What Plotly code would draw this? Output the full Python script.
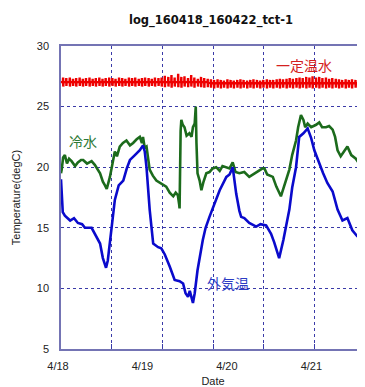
import pandas as pd
import plotly.graph_objects as go

# ---- data (hours since 2016-04-18 00:00) ----
# constant-temperature water: base level and the short spikes seen on it
red_base_early = 27.02   # before ~4/19 18:00
red_base_late = 26.93    # after
red_base_switch_h = 42.0
spike_hours = [
    0.6, 1.5, 2.5, 3.4, 4.3, 5.3, 6.2, 7.1, 8.1, 9.0, 9.9, 10.9, 11.8, 12.7, 13.7, 14.6,
    15.5, 16.5, 17.4, 18.3, 19.3, 20.2, 21.1, 22.1, 23.0, 23.9, 24.9, 25.8, 26.7, 27.7,
    28.6, 29.5, 30.5, 31.4, 32.3, 33.3, 34.2, 35.1, 36.1, 37.0, 37.9, 38.9, 39.8, 40.7,
    41.7, 42.6, 43.5, 44.5, 45.4, 46.3, 47.3, 48.2, 49.1, 50.1, 51.0, 51.9, 52.9, 53.8,
    54.7, 55.7, 56.6, 57.5, 58.5, 59.4, 60.3, 61.3, 62.2, 63.1, 64.1, 65.0, 65.9, 66.9,
    67.8, 68.7, 69.7, 70.6, 71.5, 72.5, 73.4, 74.3, 75.3, 76.2, 77.1, 78.1, 79.0, 79.9,
    80.9, 81.8, 82.7, 83.7, 84.6, 85.5,
]
spike_hi = [
    27.40, 27.35, 27.40, 27.30, 27.35, 27.40, 27.30, 27.35, 27.40, 27.30, 27.35, 27.40, 27.30, 27.35, 27.40, 27.35,
    27.30, 27.40, 27.35, 27.30, 27.40, 27.35, 27.40, 27.30, 27.35, 27.40, 27.35, 27.30, 27.40, 27.35,
    27.40, 27.55, 27.45, 27.60, 27.40, 27.70, 27.45, 27.50, 27.35, 27.60, 27.40, 27.30, 27.45, 27.35,
    27.30, 27.25, 27.20, 27.25, 27.20, 27.15, 27.25, 27.20, 27.15, 27.20, 27.25, 27.20, 27.15, 27.20,
    27.25, 27.20, 27.15, 27.20, 27.25, 27.20, 27.20, 27.25, 27.30, 27.25, 27.30, 27.35, 27.30, 27.35,
    27.40, 27.35, 27.45, 27.40, 27.50, 27.40, 27.45, 27.35, 27.40, 27.30, 27.35, 27.30, 27.25, 27.20,
    27.25, 27.20, 27.25, 27.20, 27.20, 27.25,
]
spike_lo = [
    26.65, 26.70, 26.65, 26.70, 26.65, 26.70, 26.65, 26.70, 26.65, 26.70, 26.65, 26.70, 26.65, 26.70, 26.65, 26.70,
    26.65, 26.70, 26.65, 26.70, 26.65, 26.70, 26.65, 26.70, 26.65, 26.70, 26.65, 26.70, 26.65, 26.70,
    26.65, 26.60, 26.65, 26.55, 26.65, 26.60, 26.55, 26.65, 26.60, 26.65, 26.55, 26.65, 26.60, 26.55,
    26.60, 26.55, 26.50, 26.55, 26.50, 26.55, 26.50, 26.55, 26.50, 26.55, 26.50, 26.55, 26.50, 26.55,
    26.50, 26.55, 26.50, 26.55, 26.50, 26.55, 26.50, 26.55, 26.50, 26.55, 26.50, 26.55, 26.50, 26.55,
    26.50, 26.55, 26.50, 26.55, 26.50, 26.55, 26.50, 26.55, 26.50, 26.55, 26.50, 26.55, 26.50, 26.55,
    26.50, 26.55, 26.50, 26.55, 26.50, 26.55,
]

green_hours = [
    0, 0.2, 0.6, 1.1, 1.7, 2.3, 3.0, 4.0, 4.8, 5.7, 6.3, 7.4, 8.7, 9.6, 11.1, 11.9,
    12.5, 13.0, 13.9, 14.7, 15.3, 15.9, 16.7, 17.6, 18.6, 19.6, 20.5, 21.5, 22.4,
    23.0, 23.3, 23.8, 24.3, 25.2, 26.1, 27.1, 28.1, 28.9, 29.9, 30.9, 31.9, 32.6,
    33.2, 33.6, 33.7, 34.0, 34.2, 34.6, 35.1, 35.7, 36.5, 37.1, 37.5, 38.0, 38.3,
    38.5, 38.8, 39.4, 39.9, 40.5, 41.3, 42.2, 43.1, 44.1, 45.1, 45.9, 47.0, 47.9,
    48.8, 49.6, 50.7, 52.1, 53.5, 54.5, 55.8, 57.3, 57.8, 58.6, 60.2, 61.2, 62.5,
    63.5, 64.9, 65.7, 66.8, 67.4, 68.2, 68.9, 69.4, 70.1, 71.1, 72.5, 73.4, 74.2,
    75.3, 76.2, 77.2, 77.9, 78.6, 79.5, 80.5, 81.4, 82.5, 83.8, 84.7, 85.3, 86.4,
]
green_vals = [
    19.5, 19.8, 20.8, 21.0, 20.3, 20.7, 20.5, 20.1, 20.4, 20.6, 20.6, 20.3, 20.5, 20.2, 19.5, 18.8,
    18.5, 18.2, 19.2, 20.6, 21.3, 20.9, 21.7, 22.0, 22.2, 21.8, 22.0, 22.3, 22.5,
    22.0, 22.5, 21.6, 21.7, 19.8, 19.3, 18.9, 18.7, 18.6, 18.4, 17.9, 17.6, 17.9,
    17.7, 16.9, 16.6, 23.0, 23.9, 23.5, 23.3, 22.6, 22.8, 22.5, 23.3, 23.6, 25.0,
    22.0, 19.5, 18.9, 18.1, 18.8, 19.5, 19.6, 19.9, 20.0, 19.7, 20.1, 20.0, 19.9,
    20.4, 19.6, 19.5, 19.6, 19.2, 19.4, 19.6, 19.9, 19.9, 19.4, 19.2, 18.4, 17.6,
    18.6, 19.8, 21.0, 22.2, 23.3, 24.3, 23.9, 23.3, 23.6, 23.3, 23.5, 23.7, 23.3,
    23.3, 23.4, 23.1, 22.5, 21.4, 20.9, 21.3, 21.7, 21.0, 20.7, 20.3, 20.8, 21.0,
]

blue_hours = [
    0, 0.2, 0.5, 1.1, 2.6, 3.7, 4.8, 6.0, 6.8, 8.7, 10.1, 11.1, 11.9, 12.8, 13.3,
    13.9, 15.3, 16.4, 17.7, 18.7, 19.6, 21.0, 22.4, 23.3, 23.8, 24.3, 24.7, 25.2,
    26.2, 27.6, 28.5, 29.5, 30.9, 32.3, 33.7, 34.7, 35.4, 36.1, 36.6, 37.5, 38.0,
    38.8, 40.3, 41.1, 42.2, 43.6, 45.1, 47.0, 47.9, 48.8, 49.8, 50.7, 51.2, 52.1,
    53.5, 55.5, 56.7, 58.3, 59.7, 60.6, 62.0, 63.2, 64.9, 65.7, 66.8, 67.7, 68.9,
    70.1, 71.1, 72.0, 73.4, 74.5, 75.7, 77.2, 78.6, 80.0, 81.4, 82.8, 84.2, 85.0,
    85.7, 86.4,
]
blue_vals = [
    19.0, 17.3, 16.3, 16.0, 15.6, 15.8, 15.4, 15.3, 15.0, 15.0, 14.3, 13.7, 12.5, 11.7, 12.3,
    13.7, 17.3, 18.5, 18.9, 19.9, 20.6, 21.0, 21.4, 21.8, 21.3, 20.0, 18.0, 16.5,
    13.7, 13.4, 13.3, 12.8, 11.8, 10.7, 10.6, 10.4, 9.6, 9.3, 9.8, 8.8, 9.6,
    11.5, 14.0, 15.0, 15.9, 17.0, 18.1, 19.2, 19.4, 20.0, 17.8, 16.4, 15.9, 15.8,
    15.4, 15.1, 15.3, 15.2, 14.5, 13.8, 12.5, 14.0, 16.5, 18.3, 20.0, 22.5, 22.8,
    23.2, 22.4, 21.4, 20.3, 19.5, 18.7, 18.0, 16.5, 15.6, 15.8, 14.8, 14.3, 14.2,
    15.0, 15.0,
]

day_ticks = ["2016-04-18", "2016-04-19", "2016-04-20", "2016-04-21"]
day_labels = ["4/18", "4/19", "4/20", "4/21"]
grid_ticks = ["2016-04-18 14:24", "2016-04-19 04:48", "2016-04-19 19:12",
              "2016-04-20 09:36", "2016-04-21 00:00"]
y_ticks = [5, 10, 15, 20, 25, 30]

base = pd.Timestamp("2016-04-18")


def to_dt(hours):
    return [base + pd.Timedelta(hours=h) for h in hours]


# build the spiky red line: baseline, then each spike up/down and back
red_h, red_v = [0.0], [red_base_early]
for h, hi, lo in zip(spike_hours, spike_hi, spike_lo):
    b = red_base_early if h < red_base_switch_h else red_base_late
    red_h += [h - 0.06, h, h + 0.04, h + 0.1]
    red_v += [b, hi, lo, b]
red_h.append(86.4)
red_v.append(red_base_late)

fig = go.Figure()
fig.add_trace(go.Scatter(x=to_dt(red_h), y=red_v, mode="lines",
                         line=dict(color="#ee0000", width=2.4), name="一定温水"))
fig.add_trace(go.Scatter(x=to_dt(green_hours), y=green_vals, mode="lines",
                         line=dict(color="#1c6b1c", width=2.6), name="冷水"))
fig.add_trace(go.Scatter(x=to_dt(blue_hours), y=blue_vals, mode="lines",
                         line=dict(color="#0a0acc", width=2.6), name="外気温"))

frame = "#7474b4"
grid = "#3a3aa8"
# the page body adds an 8px offset, so margins are set in figure coordinates
W, H, OFF = 365, 387, 8
fig.update_layout(
    width=W, height=H,
    margin=dict(l=61 - OFF, r=OFF, t=46 - OFF, b=H - (349 - OFF)),
    paper_bgcolor="white", plot_bgcolor="white",
    showlegend=False,
    font=dict(family="Liberation Sans, Arial, sans-serif", size=11, color="#222"),
    title=dict(text="<b>log_160418_160422_tct-1</b>",
               x=(211 - OFF) / W, xanchor="center",
               y=1 - (20 - OFF) / H, yanchor="middle",
               font=dict(family="DejaVu Sans, sans-serif", size=11.5, color="#111")),
    xaxis=dict(
        type="date", automargin=False,
        range=["2016-04-18 00:00", "2016-04-21 14:24"],
        tickvals=day_ticks, ticktext=day_labels,
        showgrid=False, ticks="", ticklabelstandoff=6, ticklabelshift=-3,
        showline=True, linecolor=frame, linewidth=1.5, mirror=True,
        zeroline=False,
        minor=dict(tickvals=grid_ticks, showgrid=True, gridcolor=grid,
                   griddash="dot", gridwidth=1, ticks="inside", ticklen=5,
                   tickcolor=grid),
        title=dict(text="Date", standoff=6, font=dict(size=11, color="#222")),
    ),
    yaxis=dict(
        range=[5, 30], tickvals=y_ticks, automargin=False,
        showgrid=True, gridcolor=grid, griddash="dot", gridwidth=1,
        ticks="", ticklabelstandoff=8,
        showline=True, linecolor=frame, linewidth=1.5, mirror=True,
        zeroline=False,
        title=dict(text="Temperature(degC)", standoff=14,
                   font=dict(size=11, color="#222")),
    ),
)

cjk = "Noto Sans CJK JP"
fig.add_annotation(text="一定温水", xref="paper", yref="y", x=0.80, y=28.45,
                   xanchor="center", yanchor="middle",
                   showarrow=False, font=dict(family=cjk, size=14, color="#d42020"))
fig.add_annotation(text="冷水", xref="paper", yref="y", x=0.072, y=22.2,
                   xanchor="center", yanchor="middle",
                   showarrow=False, font=dict(family=cjk, size=14, color="#2e7a36"))
fig.add_annotation(text="外気温", xref="paper", yref="y", x=0.55, y=10.45,
                   xanchor="center", yanchor="middle",
                   showarrow=False, font=dict(family=cjk, size=14, color="#2c3cc4"))

fig.write_html("out.html")
